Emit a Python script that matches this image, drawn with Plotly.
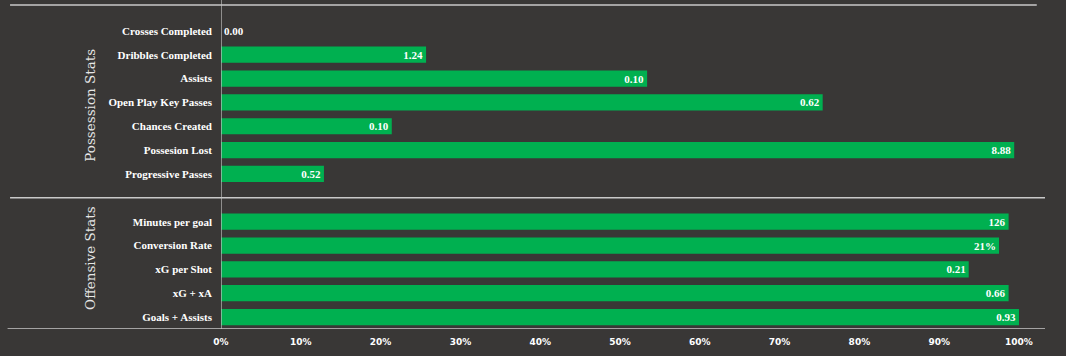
import plotly.graph_objects as go

# Data (top to bottom)
categories = ["Crosses Completed", "Dribbles Completed", "Assists", "Open Play Key Passes",
              "Chances Created", "Possesion Lost", "Progressive Passes",
              "Minutes per goal", "Conversion Rate", "xG per Shot", "xG + xA", "Goals + Assists"]
percentiles = [0.0, 25.7, 53.4, 75.4, 21.4, 99.4, 12.9,
               98.7, 97.5, 93.7, 98.7, 100.0]
value_labels = ["0.00", "1.24", "0.10", "0.62", "0.10", "8.88", "0.52",
                "126", "21%", "0.21", "0.66", "0.93"]
groups = ["Possession Stats", "Offensive Stats"]
group_sizes = [7, 5]
x_ticks = [0, 10, 20, 30, 40, 50, 60, 70, 80, 90, 100]

BG = "#393736"
GREEN = "#00b050"
LINE = "#c9c9c9"
SERIF = "Liberation Serif"

# y positions: offensive group 0..4 (bottom), gap at 5, possession 6..12
n_total = sum(group_sizes) + 1
ypos = []
y = n_total - 1
for gi, size in enumerate(group_sizes):
    for _ in range(size):
        ypos.append(y)
        y -= 1
    y -= 1  # gap between groups

textpos = ["outside" if v == 0 else "inside" for v in percentiles]

fig = go.Figure()
fig.add_trace(go.Bar(
    x=percentiles, y=ypos, orientation="h",
    marker=dict(color=GREEN, line=dict(width=0)),
    width=0.68,
    text=value_labels, textposition=textpos,
    insidetextanchor="end", constraintext="none", textangle=0,
    textfont=dict(family=SERIF, size=11, color="white", weight="bold"),
    cliponaxis=False,
    hoverinfo="skip",
))

fig.update_layout(
    width=1066, height=356,
    paper_bgcolor=BG, plot_bgcolor=BG,
    margin=dict(l=221, r=21, t=7, b=27),
    showlegend=False,
    xaxis=dict(range=[0, 103.26], tickvals=x_ticks, ticktext=[f"{t}%" for t in x_ticks],
               showgrid=False, zeroline=False, showline=False,
               tickfont=dict(family="DejaVu Sans", size=9, color="white", weight="bold"),
               ticks="", ticklabelstandoff=6),
    yaxis=dict(range=[-0.5, 13.0], tickvals=ypos, ticktext=categories,
               showgrid=False, zeroline=False, showline=False, ticks="",
               tickfont=dict(family=SERIF, size=11, color="white", weight="bold"),
               ticklabelstandoff=8),
)

# axis lines
fig.add_shape(type="line", xref="x", yref="paper", x0=0, x1=0, y0=0.0, y1=1.03,
              line=dict(color=LINE, width=1.2), layer="above")
fig.add_shape(type="line", xref="paper", yref="paper", x0=-0.256, x1=0.99, y0=1.006, y1=1.006,
              line=dict(color=LINE, width=1.5), layer="above")
sep_y = ypos[group_sizes[0] - 1] - 1
for yy, xs, xe in [(sep_y, -0.256, 1.0), (-0.5, -0.259, 1.0)]:
    fig.add_shape(type="line", xref="paper", yref="y", x0=xs, x1=xe, y0=yy, y1=yy,
                  line=dict(color=LINE, width=1.5), layer="above")

# group labels
for name, yc in zip(groups, [8.9, 2.48]):
    fig.add_annotation(text=name, xref="paper", yref="y", x=-0.159, y=yc,
                       xanchor="center", yanchor="middle",
                       textangle=-90, showarrow=False,
                       font=dict(family="DejaVu Serif", size=13.5, color="#e6e6e6"))

fig.write_html("out.html", config={"displayModeBar": False},
               post_script="document.body.style.margin='0';document.body.style.background='#393736';")
